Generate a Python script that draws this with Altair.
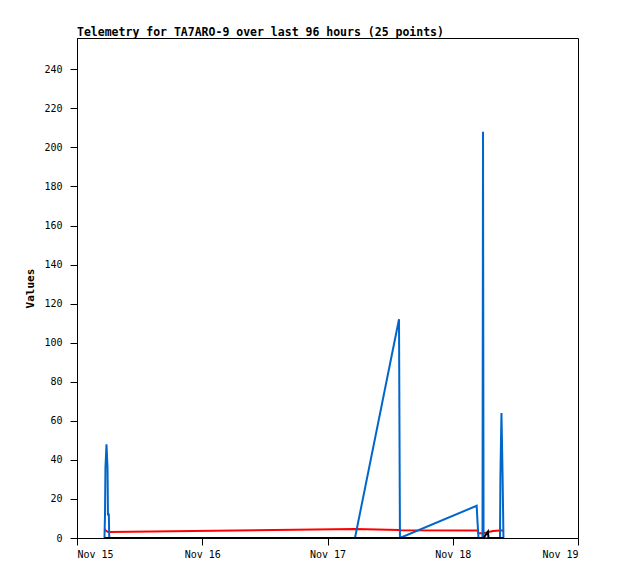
import altair as alt
import pandas as pd

times = [
    "2024-11-15T05:16:00Z", "2024-11-15T05:22:00Z", "2024-11-15T05:27:00Z",
    "2024-11-15T05:39:00Z", "2024-11-15T05:51:00Z", "2024-11-15T05:56:00Z",
    "2024-11-15T06:06:00Z", "2024-11-15T06:11:00Z", "2024-11-17T05:16:00Z",
    "2024-11-17T13:42:00Z", "2024-11-17T13:53:00Z", "2024-11-18T04:35:00Z",
    "2024-11-18T04:45:00Z", "2024-11-18T04:56:00Z", "2024-11-18T05:42:00Z",
    "2024-11-18T05:48:00Z", "2024-11-18T05:54:00Z", "2024-11-18T06:45:00Z",
    "2024-11-18T06:51:00Z", "2024-11-18T07:43:00Z", "2024-11-18T09:03:00Z",
    "2024-11-18T09:08:00Z", "2024-11-18T09:20:00Z", "2024-11-18T09:33:00Z",
    "2024-11-18T09:43:00Z",
]
blue = [0, 12, 36, 48, 36, 12, 12, 0, 0, 112, 0, 16.5, 8, 0, 0, 208, 0, 0, 0, 0, 0, 32, 64, 32, 0]
red = [4.5, 4.3, 4.0, 3.6, 3.2, 3.1, 3.1, 3.1, 4.6, 4.1, 4.0, 3.8, 3.8, 2.4, 2.4, 2.4, 2.4, 3.0, 3.1, 3.6, 3.8, 3.8, 3.8, 3.8, 3.8]
black = [0, 0, 0, 0, 0, 0, 0, 0, 0, 0, 0, 0, 0, 0, 0, 0, 0, 3.3, 0, 0, 0, 0, 0, 0, 0]

y_ticks = [0, 20, 40, 60, 80, 100, 120, 140, 160, 180, 200, 220, 240]
x_ticks = [15, 16, 17, 18, 19]

df = pd.DataFrame({"time": times, "blue": blue, "red": red, "black": black})

MONO = "DejaVu Sans Mono"

x_enc = alt.X(
    "time:T",
    scale=alt.Scale(
        type="utc",
        domain=[alt.DateTime(year=2024, month=11, date=15, utc=True),
                alt.DateTime(year=2024, month=11, date=19, utc=True)],
        nice=False,
    ),
    axis=alt.Axis(
        title=None,
        grid=False,
        values=[alt.DateTime(year=2024, month=11, date=d, utc=True) for d in x_ticks],
        format="%b %d",
        labelPadding=4,
        tickSize=7,
        domainColor="black",
        tickColor="black",
        labelFont=MONO,
        labelFontSize=10,
        labelColor="black",
    ),
)


def series(col, color):
    return alt.Chart(df).mark_line(color=color, strokeWidth=2, clip=True).encode(
        x=x_enc,
        y=alt.Y(
            f"{col}:Q",
            scale=alt.Scale(domain=[0, 256], nice=False),
            axis=alt.Axis(
                title="Values",
                grid=False,
                values=y_ticks,
                labelPadding=8,
                titlePadding=8,
                tickSize=7,
                domainColor="black",
                tickColor="black",
                labelFont=MONO,
                labelFontSize=10,
                labelColor="black",
                titleFont=MONO,
                titleFontSize=11,
                titleFontWeight="bold",
                titleColor="black",
            ),
        ),
    )


chart = alt.layer(
    series("red", "#ff0000"),
    series("blue", "#0066cc"),
    series("black", "#000000"),
).properties(
    width=501,
    height=500,
    background="white",
    title=alt.TitleParams(
        "Telemetry for TA7ARO-9 over last 96 hours (25 points)",
        anchor="start",
        frame="group",
        font=MONO,
        fontSize=11.5,
        fontWeight="bold",
        color="black",
        offset=0,
    ),
    autosize=alt.AutoSizeParams(type="none"),
    padding={"left": 69, "top": 30, "right": 32, "bottom": 33},
).configure_view(
    stroke="black", strokeWidth=1
)

chart.save("out.html", embed_options={"renderer": "svg", "actions": False})
